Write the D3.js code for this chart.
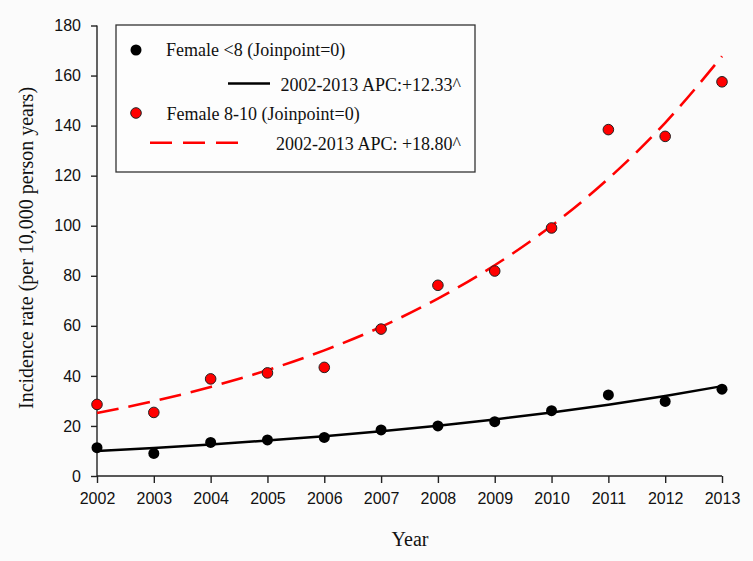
<!DOCTYPE html>
<html>
<head>
<meta charset="utf-8">
<script src="https://cdn.jsdelivr.net/npm/d3@7"></script>
<style>
  html, body { margin: 0; padding: 0; background: #fbfbfb; }
  svg { display: block; }
</style>
</head>
<body>
<svg id="chart" width="753" height="561"></svg>
<script>
// ---- data ----
const years = [2002, 2003, 2004, 2005, 2006, 2007, 2008, 2009, 2010, 2011, 2012, 2013];
const femaleUnder8 = [11.3, 9.0, 13.4, 14.4, 15.4, 18.4, 20.0, 21.7, 26.1, 32.4, 29.8, 34.7];
const femaleUnder8Fit = [10.0, 11.2, 12.6, 14.2, 15.9, 17.9, 20.1, 22.6, 25.4, 28.5, 32.0, 35.9];
const female8to10 = [28.6, 25.4, 38.8, 41.2, 43.4, 58.7, 76.2, 81.9, 99.1, 138.4, 135.7, 157.5];
const female8to10Fit = [25.2, 29.9, 35.6, 42.3, 50.2, 59.6, 70.9, 84.2, 100.0, 118.8, 141.1, 167.7];
const yTicks = [0, 20, 40, 60, 80, 100, 120, 140, 160, 180];
const legendLabels = ["Female <8 (Joinpoint=0)", "2002-2013 APC:+12.33^", "Female 8-10 (Joinpoint=0)", "2002-2013 APC: +18.80^"];
const xTitle = "Year";
const yTitle = "Incidence rate (per 10,000 person years)";

// ---- layout ----
const svg = d3.select("#chart");
const x = d3.scaleLinear().domain([2002, 2013]).range([97, 722]);
const y = d3.scaleLinear().domain([0, 180]).range([476, 25.5]);

const serif = "'Liberation Serif', 'Times New Roman', serif";
const sans = "'Liberation Sans', Arial, sans-serif";

// axes
const xAxis = svg.append("g").attr("transform", `translate(0,${y(0)})`)
  .call(d3.axisBottom(x).tickValues(years).tickFormat(d3.format("d")).tickSize(7).tickPadding(10));
const yAxis = svg.append("g").attr("transform", `translate(${x(2002)},0)`)
  .call(d3.axisLeft(y).tickValues(yTicks).tickSize(6).tickPadding(10));
[xAxis, yAxis].forEach(g => {
  g.selectAll("path.domain").attr("stroke", "#222").attr("stroke-width", 1.4);
  g.selectAll(".tick line").attr("stroke", "#222").attr("stroke-width", 1.4);
  g.selectAll(".tick text").attr("fill", "#111").style("font-family", sans).style("font-size", "16px");
});
// remove outer tick extension artefacts
xAxis.select("path.domain").attr("d", `M${x(2002)},0H${x(2013)}`);
yAxis.select("path.domain").attr("d", `M0,${y(0)}V${y(180)}`);

// titles
svg.append("text").attr("x", 410).attr("y", 546).attr("text-anchor", "middle")
  .style("font-family", serif).style("font-size", "20px").attr("fill", "#111").text(xTitle);
svg.append("text").attr("transform", "translate(33,248) rotate(-90)").attr("text-anchor", "middle")
  .style("font-family", serif).style("font-size", "20px").attr("fill", "#111").text(yTitle);

// fitted lines
const line = d3.line().x((d, i) => x(years[i])).y(d => y(d)).curve(d3.curveMonotoneX);
svg.append("path").datum(femaleUnder8Fit).attr("d", line)
  .attr("fill", "none").attr("stroke", "#000").attr("stroke-width", 2.5);
svg.append("path").datum(female8to10Fit).attr("d", line)
  .attr("fill", "none").attr("stroke", "#ff0000").attr("stroke-width", 2.6)
  .attr("stroke-dasharray", "22,10");

// points
svg.append("g").selectAll("circle").data(femaleUnder8).join("circle")
  .attr("cx", (d, i) => x(years[i])).attr("cy", d => y(d)).attr("r", 5.5)
  .attr("fill", "#000");
svg.append("g").selectAll("circle").data(female8to10).join("circle")
  .attr("cx", (d, i) => x(years[i])).attr("cy", d => y(d)).attr("r", 5.3)
  .attr("fill", "#ff0000").attr("stroke", "#222").attr("stroke-width", 1);

// legend
const lg = svg.append("g");
lg.append("rect").attr("x", 116).attr("y", 25).attr("width", 359).attr("height", 147)
  .attr("fill", "#fdfdfd").attr("stroke", "#333").attr("stroke-width", 1.3);
lg.append("circle").attr("cx", 136).attr("cy", 50).attr("r", 5.5).attr("fill", "#000");
lg.append("text").attr("x", 166).attr("y", 56).text(legendLabels[0]);
lg.append("line").attr("x1", 228).attr("x2", 270).attr("y1", 83.5).attr("y2", 83.5)
  .attr("stroke", "#000").attr("stroke-width", 2.5);
lg.append("text").attr("x", 461).attr("y", 91).attr("text-anchor", "end").text(legendLabels[1]);
lg.append("circle").attr("cx", 136).attr("cy", 113).attr("r", 5.3)
  .attr("fill", "#ff0000").attr("stroke", "#222").attr("stroke-width", 1);
lg.append("text").attr("x", 166.5).attr("y", 119.5).text(legendLabels[2]);
lg.append("line").attr("x1", 150).attr("x2", 240).attr("y1", 142.7).attr("y2", 142.7)
  .attr("stroke", "#ff0000").attr("stroke-width", 2.6).attr("stroke-dasharray", "22,11");
lg.append("text").attr("x", 461).attr("y", 149.5).attr("text-anchor", "end").text(legendLabels[3]);
lg.selectAll("text").style("font-family", serif).style("font-size", "18px").attr("fill", "#111");
</script>
</body>
</html>
